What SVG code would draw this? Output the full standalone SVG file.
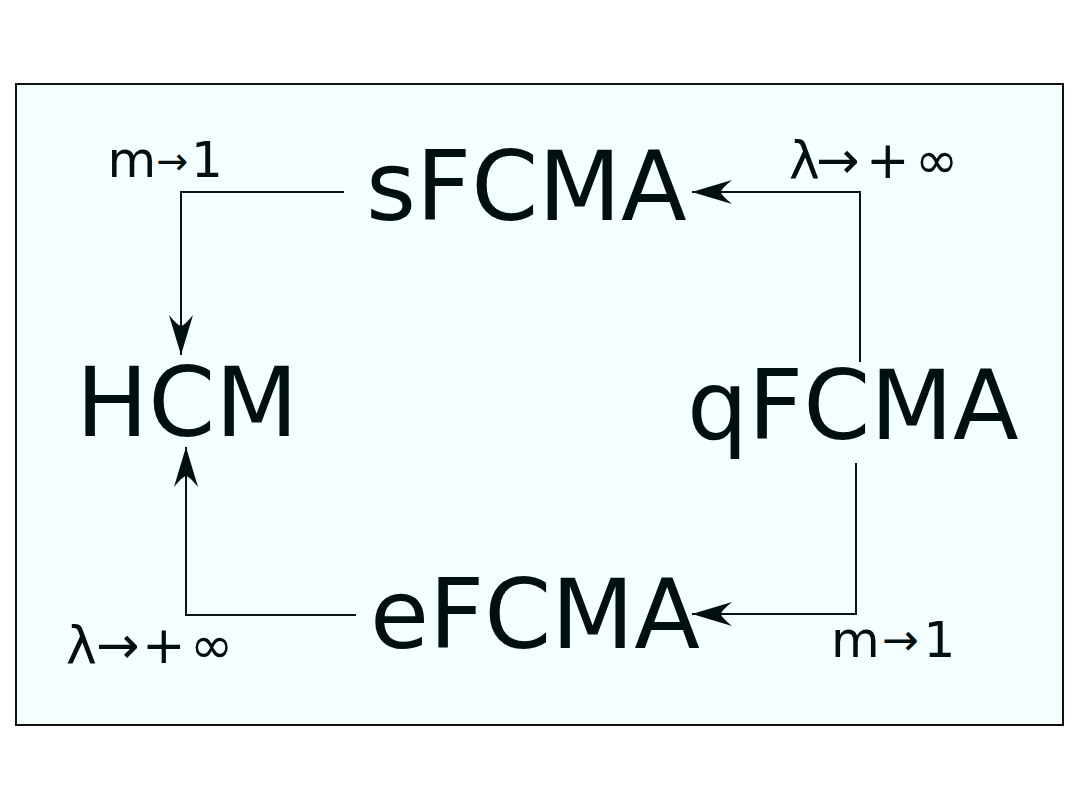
<svg xmlns="http://www.w3.org/2000/svg" width="1080" height="810" viewBox="0 0 1080 810">
  <style>
    .big { font-family: "DejaVu Sans", "Liberation Sans", sans-serif; font-size: 96px; fill: #000f0f; }
    .lbl { font-family: "DejaVu Sans", "Liberation Sans", sans-serif; font-size: 50px; fill: #000f0f; }
    .lam { font-family: "DejaVu Sans", "Liberation Sans", sans-serif; font-size: 52px; fill: #000f0f; }
    .edge { fill: none; stroke: #0a1414; stroke-width: 2; }
  </style>
  <defs>
    <marker id="arr" markerUnits="userSpaceOnUse" orient="auto" refX="0" refY="0" markerWidth="60" markerHeight="40" viewBox="-45 -20 60 40" overflow="visible">
      <path d="M0,0 L-40,-12 Q-29,-3 -29,0 Q-29,3 -40,12 Z" fill="#000f0f"/>
    </marker>
  </defs>
  <rect x="0" y="0" width="1080" height="810" fill="#ffffff"/>
  <rect id="frame" x="16" y="84" width="1047" height="641" fill="#f4fefe" stroke="#111111" stroke-width="2"/>
  <g id="connectors">
    <path class="edge" d="M344,192 H181 V355" marker-end="url(#arr)"/>
    <path class="edge" d="M860,362 V192 H692" marker-end="url(#arr)"/>
    <path class="edge" d="M356,615 H186 V447" marker-end="url(#arr)"/>
    <path class="edge" d="M856,463 V614 H692" marker-end="url(#arr)"/>
  </g>
  <g id="sFCMA"><text class="big" x="366" y="220">sFCMA</text></g>
  <g id="HCM"><text class="big" x="76" y="436">HCM</text></g>
  <g id="qFCMA"><text class="big" x="687" y="439">qFCMA</text></g>
  <g id="eFCMA"><text class="big" x="370" y="648">eFCMA</text></g>
  <g id="labels">
    <text class="lbl" x="107.5" y="177">m<tspan font-size="38" dy="-3">→</tspan><tspan dy="3" dx="3">1</tspan></text>
    <text class="lam" x="789 816 866 915" y="178">λ→+∞</text>
    <text class="lam" x="66 96 142 190" y="663">λ→+∞</text>
    <text class="lbl" x="831" y="657">m<tspan font-size="44" dy="-2" dx="2">→</tspan><tspan dy="2" dx="5">1</tspan></text>
  </g>
</svg>
